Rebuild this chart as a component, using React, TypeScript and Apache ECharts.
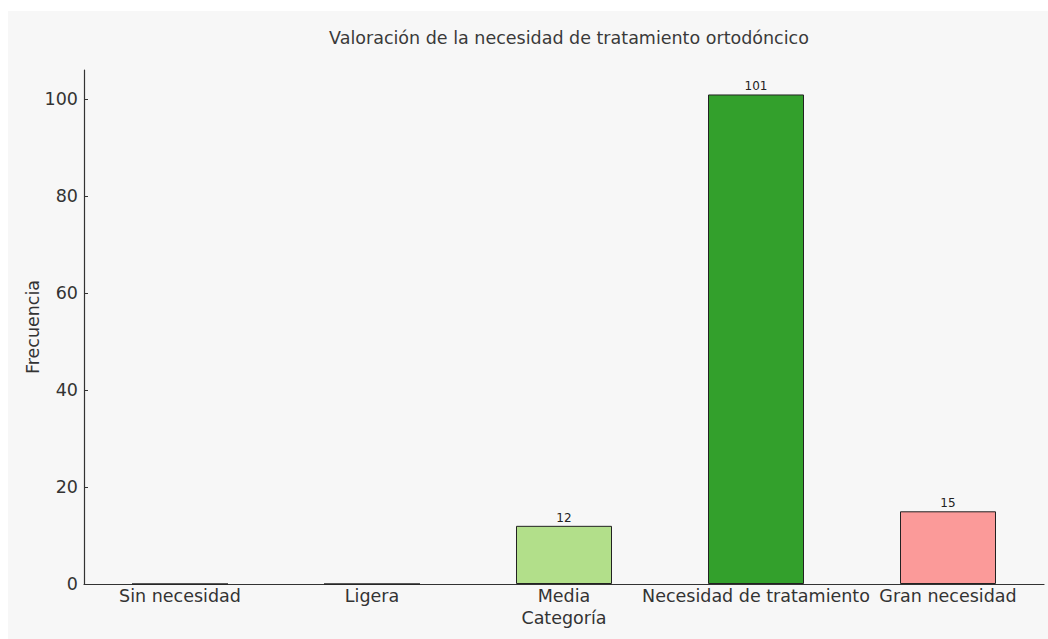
import React, { useEffect, useRef } from "react";
import * as echarts from "echarts";

const categories = ["Sin necesidad", "Ligera", "Media", "Necesidad de tratamiento", "Gran necesidad"];
const values = [0, 0, 12, 101, 15];
const barColors = ["#a6cee3", "#1f78b4", "#b2df8a", "#33a02c", "#fb9a99"];
const yTicks = [0, 20, 40, 60, 80, 100];
const titleText = "Valoración de la necesidad de tratamiento ortodóncico";

export default function App() {
  const ref = useRef<HTMLDivElement>(null);
  useEffect(() => {
    if (!ref.current) return;
    const chart = echarts.init(ref.current, null, { renderer: "svg" });
    const font = "DejaVu Sans";
    chart.setOption({
      animation: false,
      backgroundColor: "#f7f7f7",
      textStyle: { fontFamily: font },
      title: {
        text: titleText,
        left: 556,
        top: 13,
        textAlign: "center",
        textStyle: { fontFamily: font, fontSize: 17.5, fontWeight: "normal", color: "#3a3a3a" },
      },
      grid: { left: 76, right: 4, top: 59, bottom: 55, containLabel: false },
      xAxis: {
        type: "category",
        data: categories,
        boundaryGap: true,
        name: "Categoría",
        nameLocation: "middle",
        nameGap: 25,
        nameMoveOverlap: false,
        nameTextStyle: { fontFamily: font, fontSize: 17.5, color: "#333" },
        axisLine: { lineStyle: { color: "#333", width: 1.2 } },
        axisTick: { alignWithLabel: true, inside: true, length: 4, lineStyle: { color: "#333" } },
        axisLabel: { fontFamily: font, fontSize: 17.5, color: "#333", margin: 3, interval: 0 },
        splitLine: { show: false },
      },
      yAxis: {
        type: "value",
        min: 0,
        max: 106.05,
        interval: 20,
        name: "Frecuencia",
        nameLocation: "middle",
        nameGap: 42,
        nameMoveOverlap: false,
        nameTextStyle: { fontFamily: font, fontSize: 17.5, color: "#333" },
        axisLine: { show: true, lineStyle: { color: "#333", width: 1.2 } },
        axisTick: { show: true, inside: true, length: 4, customValues: yTicks, lineStyle: { color: "#333" } },
        axisLabel: { fontFamily: font, fontSize: 17.5, color: "#333", margin: 6, customValues: yTicks },
        splitLine: { show: false },
      },
      series: [
        {
          type: "bar",
          barWidth: "50%",
          data: values.map((v, i) => ({
            value: v,
            itemStyle: { color: barColors[i], borderColor: "#222", borderWidth: 1 },
            label: { show: v > 0 },
          })),
          label: {
            show: true,
            position: "top",
            distance: 2,
            fontFamily: font,
            fontSize: 12,
            color: "#222",
          },
        },
      ],
    });
    return () => chart.dispose();
  }, []);
  return (
    <div
      ref={ref}
      style={{ position: "absolute", left: 8, top: 11, width: 1040, height: 628 }}
    />
  );
}
